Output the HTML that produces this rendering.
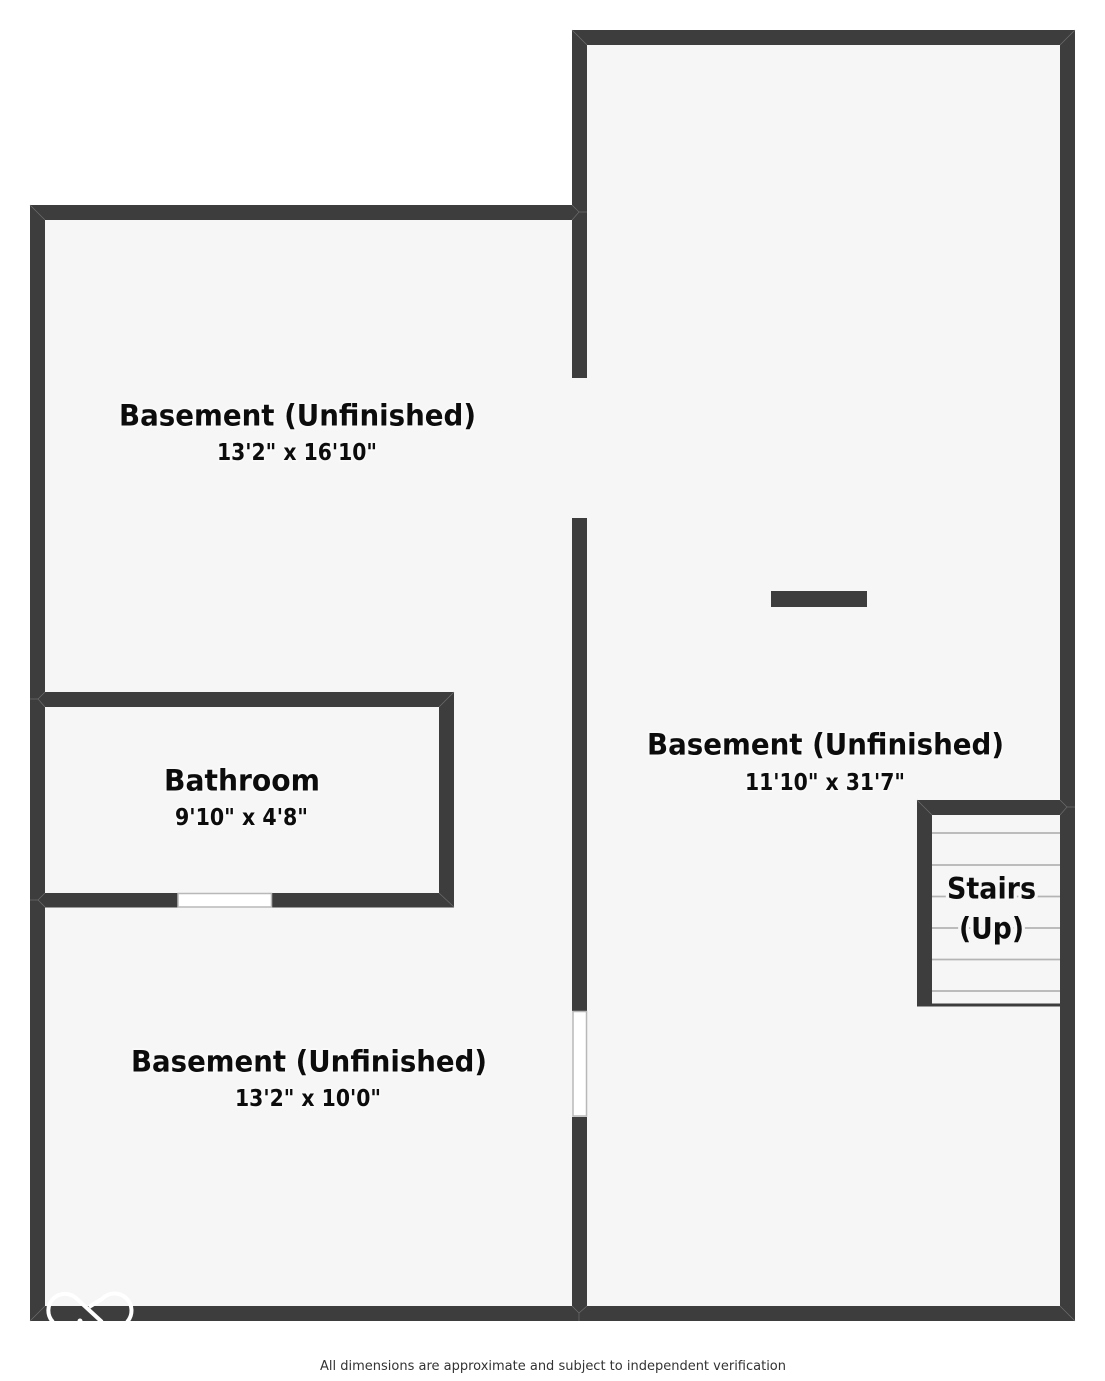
<!DOCTYPE html>
<html>
<head>
<meta charset="utf-8">
<style>
html,body{margin:0;padding:0;background:#fff}
svg{display:block}
text{font-family:"DejaVu Sans",sans-serif;font-weight:700;fill:#0c0c0c;paint-order:stroke;stroke:#f9f9f9;stroke-width:4px;stroke-linejoin:round}
text.s{stroke:#f6f6f6;stroke-width:7px}
text.f{font-weight:400;fill:#333;stroke:none;font-size:13.5px}
</style>
</head>
<body>
<svg width="1105" height="1381" viewBox="0 0 1105 1381" xmlns="http://www.w3.org/2000/svg">
<defs><clipPath id="c"><rect x="0" y="0" width="1105" height="1322"/></clipPath></defs>
<rect width="1105" height="1381" fill="#fff"/>
<!-- floors -->
<rect x="45" y="220" width="530" height="1086" fill="#f6f6f6"/>
<rect x="572" y="45" width="488" height="1261" fill="#f6f6f6"/>
<!-- stair lines -->
<g stroke="#b4b4b4" stroke-width="1.800">
<line x1="932" y1="833" x2="1060" y2="833"/>
<line x1="932" y1="865" x2="1060" y2="865"/>
<line x1="932" y1="896.500" x2="1060" y2="896.500"/>
<line x1="932" y1="928" x2="1060" y2="928"/>
<line x1="932" y1="959.500" x2="1060" y2="959.500"/>
<line x1="932" y1="991" x2="1060" y2="991"/>
</g>
<!-- walls -->
<g fill="#3d3d3d">
<rect x="572" y="30" width="503" height="15"/>
<rect x="1060" y="30" width="15" height="1291"/>
<rect x="30" y="1306" width="1045" height="15"/>
<rect x="30" y="205" width="550" height="15"/>
<rect x="30" y="205" width="15" height="1116"/>
<rect x="572" y="30" width="15" height="348"/>
<rect x="572" y="518" width="15" height="493"/>
<rect x="572" y="1117" width="15" height="204"/>
<rect x="30" y="692" width="424" height="15"/>
<rect x="439" y="692" width="15" height="215"/>
<rect x="30" y="893" width="424" height="14.500"/>
<rect x="917" y="800" width="158" height="15"/>
<rect x="917" y="800" width="15" height="206"/>
<rect x="917" y="1003.500" width="143" height="3"/>
<rect x="771" y="591" width="96" height="16"/>
</g>
<!-- windows -->
<rect x="178" y="893.500" width="93.500" height="13.500" fill="#fff" stroke="#b8b8b8" stroke-width="1.500"/>
<rect x="573" y="1011.500" width="13.500" height="104.500" fill="#fff" stroke="#b8b8b8" stroke-width="1.500"/>
<!-- mitre lines -->
<g stroke="#6c6c6c" stroke-width="0.700" fill="none">
<line x1="572" y1="30" x2="587" y2="45"/>
<line x1="1075" y1="30" x2="1060" y2="45"/>
<line x1="30" y1="205" x2="45" y2="220"/>
<line x1="30" y1="1321" x2="45" y2="1306"/>
<line x1="1075" y1="1321" x2="1060" y2="1306"/>
<path d="M572 205 L579 212 L572 220 M579 212 L587 212"/>
<path d="M572 1306 L579 1313 L587 1306 M579 1313 L579 1321"/>
<path d="M45 692 L38 699 L45 707 M38 699 L30 699"/>
<path d="M45 893 L38 900 L45 907 M38 900 L30 900"/>
<line x1="454" y1="692" x2="439" y2="707"/>
<line x1="454" y1="907" x2="439" y2="893"/>
<line x1="917" y1="800" x2="932" y2="815"/>
<path d="M1060 800 L1067 807 L1060 815 M1067 807 L1075 807"/>
</g>
<!-- watermark -->
<g clip-path="url(#c)" fill="none" stroke="#fff" stroke-width="4">
<path d="M53 1322 A16.500 16.500 0 1 1 77 1299 L102 1322"/>
<path d="M89 1307 L102 1299 A16 16 0 0 1 127 1322"/>
<circle cx="80" cy="1321" r="2.500" fill="#fff" stroke="none"/>
</g>
<!-- labels -->
<text x="119" y="425.500" font-size="29" textLength="357" lengthAdjust="spacingAndGlyphs">Basement (Unfinished)</text>
<text x="217" y="460" font-size="23.500" textLength="160" lengthAdjust="spacingAndGlyphs">13'2" x 16'10"</text>
<text x="647" y="754.500" font-size="29" textLength="357" lengthAdjust="spacingAndGlyphs">Basement (Unfinished)</text>
<text x="745" y="790" font-size="23.500" textLength="160" lengthAdjust="spacingAndGlyphs">11'10" x 31'7"</text>
<text x="131" y="1071.500" font-size="29" textLength="356" lengthAdjust="spacingAndGlyphs">Basement (Unfinished)</text>
<text x="235" y="1106" font-size="23.500" textLength="146" lengthAdjust="spacingAndGlyphs">13'2" x 10'0"</text>
<text x="164" y="790.500" font-size="29" textLength="156" lengthAdjust="spacingAndGlyphs">Bathroom</text>
<text x="175" y="825" font-size="23.500" textLength="133" lengthAdjust="spacingAndGlyphs">9'10" x 4'8"</text>
<text class="s" x="947" y="898.500" font-size="29" textLength="89" lengthAdjust="spacingAndGlyphs">Stairs</text>
<text class="s" x="959" y="938.500" font-size="29" textLength="65" lengthAdjust="spacingAndGlyphs">(Up)</text>
<text class="f" x="320" y="1370" textLength="466" lengthAdjust="spacingAndGlyphs">All dimensions are approximate and subject to independent verification</text>
</svg>
</body>
</html>
